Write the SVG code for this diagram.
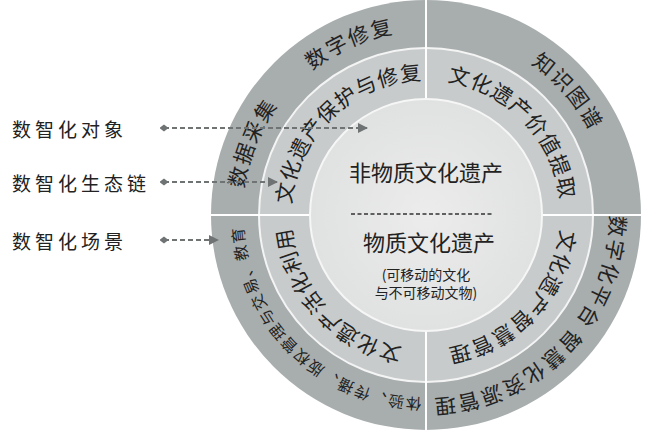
<svg xmlns="http://www.w3.org/2000/svg" xmlns:xlink="http://www.w3.org/1999/xlink" width="655" height="433" viewBox="0 0 655 433">
<style>
.lbl{font-family:"Noto Sans CJK SC","Noto Sans",sans-serif;fill:#222;}
.side{font-size:19px;letter-spacing:4px;}
.ring{font-size:21px;letter-spacing:2px;}
.mid{font-size:21px;letter-spacing:1px;}
.small{font-size:15.5px;letter-spacing:1.5px;}
.big{font-size:22px;}
.paren{font-size:14px;}
.conn{stroke:#6f7373;stroke-width:2;stroke-dasharray:5 3;fill:none;}
.div{stroke:#fff;stroke-width:2;}
</style>
<defs>
<marker id="ah" viewBox="0 0 10 10" refX="9" refY="5" markerWidth="5" markerHeight="5" orient="auto"><path d="M0,0 L10,5 L0,10 z" fill="#6f7373"/></marker>
<marker id="dot" viewBox="0 0 10 10" refX="5" refY="5" markerWidth="4.5" markerHeight="4.5" orient="auto"><path d="M0,5 L5,1 L10,5 L5,9 z" fill="#6f7373"/></marker>
<path id="p1" d="M247.46,259.51 A184,184 0 0 1 578.54,112.11"/>
<path id="p2" d="M327.14,370.18 A184,184 0 0 1 465.82,35.36"/>
<path id="p3" d="M331.23,57.28 A184,184 0 0 1 569.0,330.79"/>
<path id="p4" d="M512.38,52.54 A184,184 0 0 1 400.39,397.21"/>
<path id="p5" d="M601.96,161.20 A184,184 0 0 1 279.05,325.73"/>
<path id="p6" d="M533.57,363.05 A183,183 0 0 1 274.29,112.67"/>
<path id="p7" d="M313.42,289.51 A135,135 0 0 1 506.30,106.48"/>
<path id="p8" d="M351.29,102.56 A135,135 0 0 1 534.66,295.11"/>
<path id="p9" d="M534.52,134.70 A135,135 0 0 1 351.49,327.58"/>
<path id="p10" d="M498.54,328.86 A135,135 0 0 1 318.90,132.82"/>
<radialGradient id="ig" cx="0.5" cy="0.5" r="0.5"><stop offset="0" stop-color="#ececec"/><stop offset="1" stop-color="#e0e1e1"/></radialGradient>
</defs>

<g id="rings">
<circle cx="426" cy="215" r="215" fill="#a8adad"/>
<circle cx="426" cy="215" r="167" fill="#c7cbcb" stroke="#f4f4f4" stroke-width="2"/>
<line class="div" x1="426" y1="0" x2="426" y2="430"/>
<line class="div" x1="211" y1="215" x2="641" y2="215"/>
</g>

<g id="outer-labels" class="lbl ring">
<text><textPath href="#p1" startOffset="50%" text-anchor="middle">数字修复</textPath></text>
<text><textPath href="#p2" startOffset="50%" text-anchor="middle">数据采集</textPath></text>
<text><textPath href="#p3" startOffset="50%" text-anchor="middle">知识图谱</textPath></text>
<text><textPath href="#p4" startOffset="50%" text-anchor="middle">数字化平台</textPath></text>
<text><textPath href="#p5" startOffset="50%" text-anchor="middle">智慧化资源管理</textPath></text>
</g>
<g id="outer-scene" class="lbl small">
<text><textPath href="#p6" startOffset="50%" text-anchor="middle">体验、传播、版权管理与交易、教育</textPath></text>
</g>

<g id="middle-labels" class="lbl mid">
<text><textPath href="#p7" startOffset="50%" text-anchor="middle">文化遗产保护与修复</textPath></text>
<text><textPath href="#p8" startOffset="50%" text-anchor="middle">文化遗产价值提取</textPath></text>
<text><textPath href="#p9" startOffset="50%" text-anchor="middle">文化遗产智慧管理</textPath></text>
<text><textPath href="#p10" startOffset="50%" text-anchor="middle">文化遗产活化利用</textPath></text>
</g>

<g id="core">
<circle cx="426" cy="215" r="116" fill="url(#ig)" stroke="#f6f6f6" stroke-width="2"/>
<text class="lbl big" x="426" y="181" text-anchor="middle">非物质文化遗产</text>
<line x1="351" y1="214" x2="493" y2="214" stroke="#333" stroke-width="1.3" stroke-dasharray="4 2.5"/>
<text class="lbl big" x="429" y="251" text-anchor="middle">物质文化遗产</text>
<text class="lbl paren" x="426" y="280" text-anchor="middle">(可移动的文化</text>
<text class="lbl paren" x="426" y="298" text-anchor="middle">与不可移动文物)</text>
</g>

<g id="side-labels" class="lbl side">
<text id="obj" x="12" y="137">数智化对象</text>
<text id="eco" x="12" y="191">数智化生态链</text>
<text id="scene" x="12" y="249">数智化场景</text>
</g>

<g id="connectors">
<line class="conn" x1="164" y1="128" x2="367" y2="128" marker-start="url(#dot)" marker-end="url(#ah)"/>
<line class="conn" x1="164" y1="182" x2="277" y2="182" marker-start="url(#dot)" marker-end="url(#ah)"/>
<line class="conn" x1="164" y1="240" x2="218" y2="240" marker-start="url(#dot)" marker-end="url(#ah)"/>
</g>
</svg>
